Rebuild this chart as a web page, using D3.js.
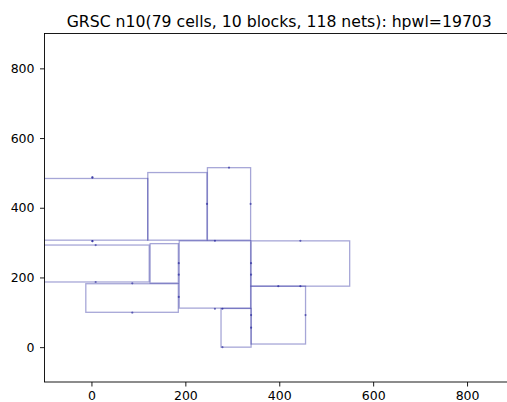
<!DOCTYPE html>
<html>
<head>
<meta charset="utf-8">
<script src="https://cdn.jsdelivr.net/npm/d3@7"></script>
<style>
  body { margin: 0; background: #fff; }
  svg { display: block; font-family: "DejaVu Sans", sans-serif; }
</style>
</head>
<body>
<svg id="chart" width="507" height="402"></svg>
<script>
// DATA
// --------------------------------------
var title = 'GRSC n10(79 cells, 10 blocks, 118 nets): hpwl=19703';

// blocks as [x0, y0, x1, y1] in layout units
var blockNames = ['A', 'B', 'C', 'D', 'E', 'F', 'G', 'H', 'I', 'J'];
var blockX0 = [-160, 120, 247, -160, 340, 187, 340, 276, 125, -12];
var blockY0 = [307, 307, 307, 187, 175, 112, 9, 0, 184, 100];
var blockX1 = [120, 246, 339, 123, 550, 339, 456, 340, 185, 185];
var blockY1 = [484, 501, 515, 293, 305, 305, 175, 111, 297, 182];

// pin positions
var pinX = [2, 2, 2, 2, 9, 9, 87, 87, 186, 186, 186, 246, 263, 263, 279, 293, 339, 340, 340, 445, 398, 445, 340, 340, 456, 279];
var pinY = [487, 487, 304, 304, 293, 187, 183, 99, 144, 208, 241, 411, 305, 110, 110, 515, 411, 241, 208, 305, 175, 175, 92, 56, 92, 0];

var xTicks = [0, 200, 400, 600, 800];
var yTicks = [0, 200, 400, 600, 800];

// CONFIG
// --------------------------------------
var CONFIG = {
    left: 44.5,
    right: 514,
    top: 33.5,
    bottom: 382,
    xDomain: [-100, 900],
    yDomain: [-100, 900]
};

var svg = d3.select('#chart');

var x = d3.scaleLinear().domain(CONFIG.xDomain).range([CONFIG.left, CONFIG.right]);
var y = d3.scaleLinear().domain(CONFIG.yDomain).range([CONFIG.bottom, CONFIG.top]);

svg.append('defs').append('clipPath').attr('id', 'plot-clip')
    .append('rect')
    .attr('x', CONFIG.left)
    .attr('y', CONFIG.top)
    .attr('width', CONFIG.right - CONFIG.left)
    .attr('height', CONFIG.bottom - CONFIG.top);

var plot = svg.append('g').attr('clip-path', 'url(#plot-clip)');

// blocks
var blocks = blockNames.map(function(n, i) {
    return { name: n, x0: blockX0[i], y0: blockY0[i], x1: blockX1[i], y1: blockY1[i] };
});

plot.selectAll('rect.block')
    .data(blocks)
    .enter().append('rect')
    .attr('class', 'block')
    .attr('x', function(d) { return x(d.x0); })
    .attr('y', function(d) { return y(d.y1); })
    .attr('width', function(d) { return x(d.x1) - x(d.x0); })
    .attr('height', function(d) { return y(d.y0) - y(d.y1); })
    .attr('fill', 'none')
    .attr('stroke', '#00008b')
    .attr('stroke-opacity', 0.35)
    .attr('stroke-width', 1.3);

// pins
var pins = pinX.map(function(px, i) { return { x: px, y: pinY[i] }; });

plot.selectAll('circle.pin')
    .data(pins)
    .enter().append('circle')
    .attr('class', 'pin')
    .attr('cx', function(d) { return x(d.x); })
    .attr('cy', function(d) { return y(d.y); })
    .attr('r', 1.1)
    .attr('fill', '#00008b')
    .attr('fill-opacity', 0.5);

// axes
var xAxis = d3.axisBottom(x).tickValues(xTicks).tickSize(4.5).tickPadding(4.5);
var yAxis = d3.axisLeft(y).tickValues(yTicks).tickSize(4.5).tickPadding(5.5);

var gx = svg.append('g')
    .attr('transform', 'translate(0,' + CONFIG.bottom + ')')
    .call(xAxis);
var gy = svg.append('g')
    .attr('transform', 'translate(' + CONFIG.left + ',0)')
    .call(yAxis);

[gx, gy].forEach(function(g) {
    g.select('.domain').remove();
    g.selectAll('line').attr('stroke', '#000').attr('stroke-width', 0.9);
    g.selectAll('text')
        .attr('fill', '#000')
        .style('font-family', '"DejaVu Sans", sans-serif')
        .style('font-size', '12.5px');
});

// frame
svg.append('rect')
    .attr('x', CONFIG.left)
    .attr('y', CONFIG.top)
    .attr('width', CONFIG.right - CONFIG.left)
    .attr('height', CONFIG.bottom - CONFIG.top)
    .attr('fill', 'none')
    .attr('stroke', '#000')
    .attr('stroke-width', 0.9);

// title
svg.append('text')
    .attr('x', (CONFIG.left + CONFIG.right) / 2)
    .attr('y', 26.5)
    .attr('text-anchor', 'middle')
    .style('font-size', '15.7px')
    .attr('fill', '#000')
    .text(title);
</script>
</body>
</html>
